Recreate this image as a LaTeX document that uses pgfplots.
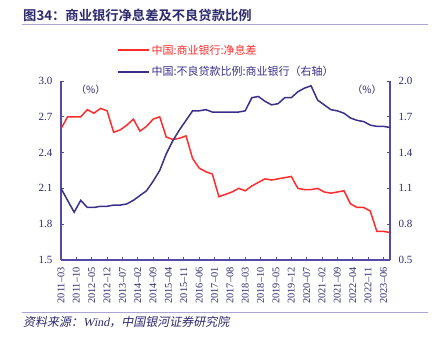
\documentclass[border=0pt]{standalone}
\usepackage{pgfplots}
\pgfplotsset{compat=1.18}
\usepackage{fontspec}
\setmainfont{Liberation Serif}
\newfontfamily\cjk{Noto Sans CJK SC}
\newfontfamily\cjkb{Noto Sans CJK SC Bold}
\newfontfamily\cjkit[FakeSlant=0.2]{Noto Sans CJK SC}
\newfontfamily\serifit[FakeSlant=0.2]{Liberation Serif}
\definecolor{nimred}{RGB}{255,45,45}
\definecolor{nplblue}{RGB}{58,48,140}
\definecolor{axcol}{RGB}{85,75,165}
\definecolor{txtcol}{RGB}{45,42,110}
\definecolor{rulecol}{RGB}{170,165,210}
\pgfplotstableread{
x nim npl
0 2.60 1.10
3 2.70 1.00
6 2.70 0.90
9 2.70 1.00
12 2.76 0.94
15 2.73 0.94
18 2.77 0.95
21 2.75 0.95
24 2.57 0.96
27 2.59 0.96
30 2.63 0.97
33 2.68 1.00
36 2.58 1.04
39 2.62 1.08
42 2.68 1.16
45 2.70 1.25
48 2.53 1.39
51 2.51 1.50
54 2.52 1.59
57 2.54 1.67
60 2.35 1.75
63 2.27 1.75
66 2.24 1.76
69 2.22 1.74
72 2.03 1.74
75 2.05 1.74
78 2.07 1.74
81 2.10 1.74
84 2.08 1.75
87 2.12 1.86
90 2.15 1.87
93 2.18 1.83
96 2.17 1.80
99 2.18 1.81
102 2.19 1.86
105 2.20 1.86
108 2.10 1.91
111 2.09 1.94
114 2.09 1.96
117 2.10 1.84
120 2.07 1.80
123 2.06 1.76
126 2.07 1.75
129 2.08 1.73
132 1.97 1.69
135 1.94 1.67
138 1.94 1.66
141 1.91 1.63
144 1.74 1.62
147 1.74 1.62
150 1.73 1.61
}\data
\begin{document}
\begin{tikzpicture}
\useasboundingbox (0pt,0pt) rectangle (432pt,344pt);
\fill[white] (0pt,0pt) rectangle (432pt,344pt);
% title and rules
\node[anchor=west,inner sep=0pt,text=txtcol] at (23pt,329pt) {\cjkb\fontsize{13.3}{15}\selectfont 图34：商业银行净息差及不良贷款比例};
\draw[rulecol,line width=1pt] (22pt,319pt) -- (428pt,319pt);
\draw[rulecol,line width=1pt] (22pt,31pt) -- (428pt,31pt);
\node[anchor=west,inner sep=0pt,text=txtcol] at (23pt,22pt) {\fontsize{12}{14}\selectfont\cjkit 资料来源：\serifit Wind\cjkit ，中国银河证券研究院};
\pgfplotsset{
  every axis/.append style={
    scale only axis, width=329pt, height=179pt,
    at={(61pt,84pt)}, anchor=south west,
    xmin=0, xmax=150,
    axis line style={axcol,line width=1.2pt},
    tick style={axcol,line width=0.8pt},
    major tick length=3pt,
    tick align=inside,
    ticklabel style={text=txtcol,font=\fontsize{11}{13}\selectfont},
    /pgf/number format/assume math mode=true,
    /pgf/number format/fixed,/pgf/number format/fixed zerofill,/pgf/number format/precision=1,
  }
}
\begin{axis}[
  axis x line*=bottom, axis y line*=left,
  ymin=1.5, ymax=3.0, ytick={1.5,1.8,2.1,2.4,2.7,3.0},
  xtick={0,7,...,147},
  xticklabels={2011--03,2011--10,2012--05,2012--12,2013--07,2014--02,2014--09,2015--04,2015--11,2016--06,2017--01,2017--08,2018--03,2018--10,2019--05,2019--12,2020--07,2021--02,2021--09,2022--04,2022--11,2023--06},
  xticklabel style={rotate=90,anchor=east,font=\fontsize{10.3}{12}\selectfont},
  xticklabel shift=4pt,
  yticklabel shift=5pt,
]
\addplot[nimred,line width=1.5pt] table[x=x,y=nim] {\data};
\node[anchor=north west,text=txtcol,font=\cjk\fontsize{10}{12}\selectfont] at (rel axis cs:0.035,1.0) {（\%）};
\end{axis}
\begin{axis}[
  axis x line=none, axis y line*=right,
  ymin=0.5, ymax=2.0, ytick={0.5,0.8,1.1,1.4,1.7,2.0},
  yticklabel shift=5pt,
  legend style={at={(0.17,1.215)},anchor=north west,draw=none,fill=none,
    font=\cjk\fontsize{11}{13}\selectfont,row sep=7pt,inner sep=0pt,
    nodes={inner sep=2pt}},
  legend cell align=left,
  legend image code/.code={\draw[#1,line width=1.5pt] (0pt,0pt) -- (31pt,0pt);},
]
\addlegendimage{nimred}
\addlegendentry{\textcolor{nimred}{中国:商业银行:净息差}}
\addplot[nplblue,line width=1.5pt] table[x=x,y=npl] {\data};
\addlegendentry{\textcolor{nplblue}{中国:不良贷款比例:商业银行（右轴）}}
\node[anchor=north east,text=txtcol,font=\cjk\fontsize{10}{12}\selectfont] at (rel axis cs:0.985,1.0) {（\%）};
\end{axis}
\end{tikzpicture}
\end{document}
